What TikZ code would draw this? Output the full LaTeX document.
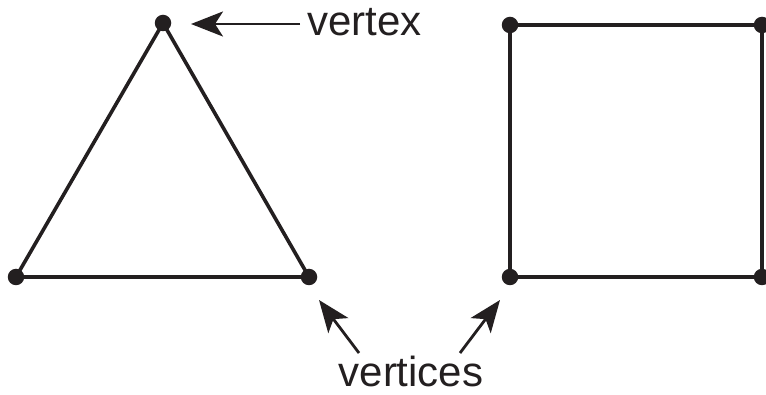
\documentclass[tikz,border=0pt]{standalone}
\usepackage{fontspec}
\setmainfont{Liberation Sans}
\usetikzlibrary{arrows.meta}
\definecolor{ink}{HTML}{231F20}
\tikzset{
  edge/.style={draw=ink, line width=3.6pt},
  vdot/.style={circle, fill=ink, inner sep=0pt, minimum size=16.5pt},
  pointer/.style={draw=ink, line width=2.8pt, -{Stealth[length=32pt, width=25pt, inset=8pt]}},
  lbl/.style={text=ink, font=\fontsize{42pt}{46pt}\selectfont, inner sep=0pt}
}
\begin{document}
\begin{tikzpicture}[x=1pt, y=-1pt]
\useasboundingbox (0,0) rectangle (766,395);
% triangle
\coordinate (tA) at (163,23);
\coordinate (tB) at (16,277);
\coordinate (tC) at (309,277);
% square
\coordinate (sA) at (510,25);
\coordinate (sB) at (762,25);
\coordinate (sC) at (762,277);
\coordinate (sD) at (510,277);
\draw[edge, line join=miter] (tA) -- (tB) -- (tC) -- cycle;
\draw[edge] (sA) -- (sB) -- (sC) -- (sD) -- cycle;
\foreach \p in {tA,tB,tC,sA,sB,sC,sD} \node[vdot] at (\p) {};
% labels
\node[lbl, anchor=base west] (vx) at (307,36) {vertex};
\node[lbl, anchor=base] (vs) at (411,386) {vertices};
\coordinate (a1s) at (300,24);
\coordinate (a1e) at (191,24);
\coordinate (a2s) at (359,353);
\coordinate (a2e) at (319,300);
\coordinate (a3s) at (460,353);
\coordinate (a3e) at (500,300);
\draw[pointer] (a1s) -- (a1e);
\draw[pointer] (a2s) -- (a2e);
\draw[pointer] (a3s) -- (a3e);
\end{tikzpicture}
\end{document}
